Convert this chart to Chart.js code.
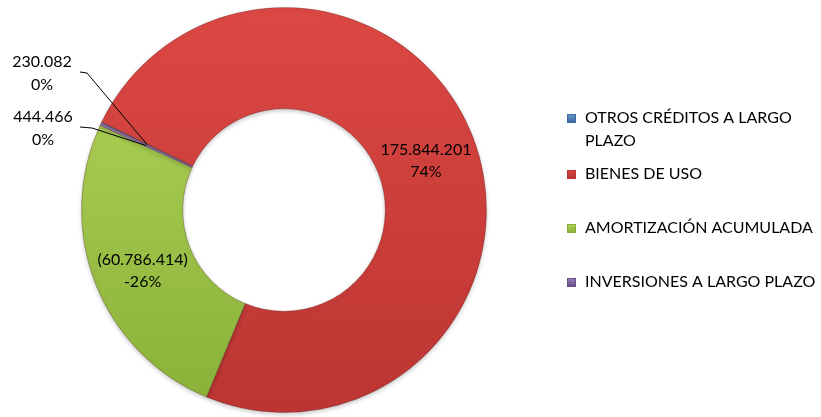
<!DOCTYPE html>
<html>
<head>
<meta charset="utf-8">
<script src="https://cdn.jsdelivr.net/npm/chart.js@4.4.1/dist/chart.umd.min.js"></script>
<style>
  html,body{margin:0;padding:0;background:#fff;}
  #wrap{width:821px;height:417px;position:relative;}
</style>
</head>
<body>
<div id="wrap"><canvas id="c" width="821" height="417"></canvas></div>
<script>
const labels=["OTROS CRÉDITOS A LARGO PLAZO","BIENES DE USO","AMORTIZACIÓN ACUMULADA","INVERSIONES A LARGO PLAZO"];
const values=[230082,175844201,-60786414,444466];
const baseColors=["#4f81bd","#d2403c","#9cc446","#8064a2"];
const topColors=["#6a97cf","#dc4844","#b4d65c","#9880ba"];
const bottomColors=["#3c6aa3","#bc3532","#88b037","#684f8a"];

const FONT="Lato, 'Open Sans', sans-serif";
const total=values.reduce((s,v)=>s+Math.abs(v),0);

function fmtNum(v){
  const s=Math.abs(v).toString().replace(/\B(?=(\d{3})+(?!\d))/g,".");
  return v<0?`(${s})`:s;
}
function fmtPct(v){
  const p=Math.round(v/total*100);
  return (p===0?0:p)+"%";
}

function sliceFill(ctx){
  const i=ctx.dataIndex;
  const area=ctx.chart.chartArea;
  if(!area)return baseColors[i];
  const g=ctx.chart.ctx.createLinearGradient(0,area.top,0,area.bottom);
  g.addColorStop(0,topColors[i]);
  g.addColorStop(1,bottomColors[i]);
  return g;
}

// soft drop shadow under the ring
const ringShadow={
  id:"ringShadow",
  beforeDatasetsDraw(chart){
    const ctx=chart.ctx;
    ctx.save();
    ctx.shadowColor="rgba(0,0,0,0.22)";
    ctx.shadowBlur=4;
    ctx.shadowOffsetY=2;
  },
  afterDatasetsDraw(chart){
    chart.ctx.restore();
  }
};

// value + percent labels; the two tiny slices get labels outside with leader lines
const sliceLabels={
  id:"sliceLabels",
  afterDatasetsDraw(chart){
    const ctx=chart.ctx;
    const arcs=chart.getDatasetMeta(0).data;
    ctx.save();
    ctx.font=`16px ${FONT}`;
    ctx.fillStyle="#000";
    ctx.textAlign="center";
    ctx.textBaseline="middle";
    const outside={0:{x:42,y:62,lx:80,ly:72,kx:87,ky:73},3:{x:43,y:117,lx:80,ly:127,kx:92,ky:128}};
    arcs.forEach((arc,i)=>{
      const p=arc.tooltipPosition();
      const v=values[i];
      if(outside[i]){
        const o=outside[i];
        ctx.fillText(fmtNum(v),o.x,o.y);
        ctx.fillText(fmtPct(v),o.x,o.y+23);
        ctx.beginPath();
        ctx.strokeStyle="#000";
        ctx.lineWidth=1;
        ctx.moveTo(o.lx,o.ly);
        ctx.lineTo(o.kx,o.ky);
        ctx.lineTo(p.x,p.y);
        ctx.stroke();
      }else{
        ctx.fillText(fmtNum(v),p.x,p.y-6);
        ctx.fillText(fmtPct(v),p.x,p.y+16);
      }
    });
    ctx.restore();
  }
};

// legend drawn at the right, wrapping long entries
const sideLegend={
  id:"sideLegend",
  afterDraw(chart){
    const ctx=chart.ctx;
    const x=585,maxW=821-x;
    const ys=[118,174,228,282];
    ctx.save();
    ctx.font=`16px ${FONT}`;
    ctx.textBaseline="middle";
    ctx.textAlign="left";
    labels.forEach((lab,i)=>{
      const words=lab.split(" ");
      const lines=[];let cur="";
      words.forEach(w=>{
        const t=cur?cur+" "+w:w;
        if(ctx.measureText(t).width>maxW&&cur){lines.push(cur);cur=w;}else cur=t;
      });
      lines.push(cur);
      const y=ys[i];
      const g=ctx.createLinearGradient(0,y-4,0,y+4);
      g.addColorStop(0,topColors[i]);g.addColorStop(1,bottomColors[i]);
      ctx.fillStyle=g;
      ctx.fillRect(567,y-4,9,9);
      ctx.strokeStyle=bottomColors[i];
      ctx.lineWidth=1;
      ctx.strokeRect(567.5,y-3.5,8,8);
      ctx.fillStyle="#000";
      lines.forEach((ln,k)=>ctx.fillText(ln,x,y+k*23));
    });
    ctx.restore();
  }
};

new Chart(document.getElementById("c"),{
  type:"doughnut",
  data:{labels,datasets:[{
    data:values.map(v=>Math.abs(v)),
    backgroundColor:sliceFill,
    borderColor:"rgba(80,30,30,0.3)",
    borderWidth:1
  }]},
  options:{
    responsive:false,
    animation:false,
    cutout:"50%",
    rotation:-64.6,
    layout:{padding:{left:81,right:334,top:7,bottom:4}},
    plugins:{legend:{display:false},tooltip:{enabled:false}}
  },
  plugins:[ringShadow,sliceLabels,sideLegend]
});
</script>
</body>
</html>
